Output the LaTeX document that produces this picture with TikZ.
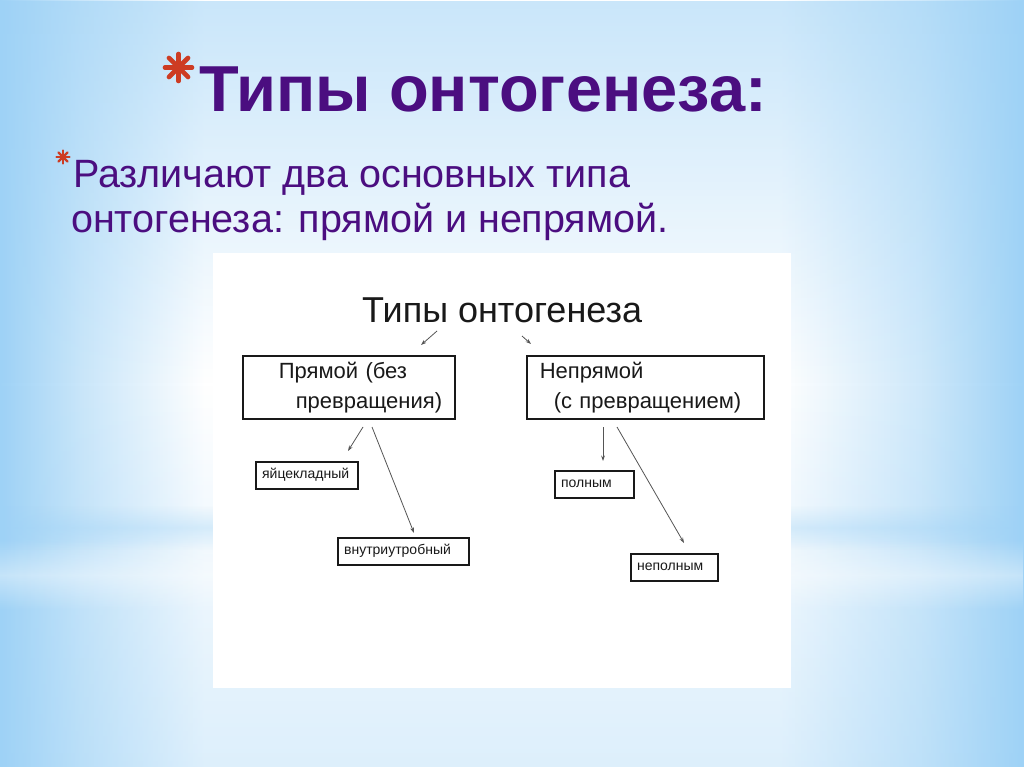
\documentclass[tikz,border=0pt]{standalone}
\usepackage{fontspec}
\setmainfont{Liberation Sans}
\usetikzlibrary{arrows.meta,fadings}
\definecolor{bgblue}{RGB}{158,210,246}
\definecolor{ttl}{RGB}{75,14,128}
\definecolor{starred}{RGB}{205,60,35}
\definecolor{ink}{RGB}{25,25,25}
\definecolor{arrgray}{RGB}{85,85,85}
\pgfdeclarehorizontalshading{bgshade}{100bp}{color(0bp)=(bgblue); color(25bp)=(bgblue); color(29bp)=(bgblue!55!white); color(35bp)=(white); color(63bp)=(white); color(70bp)=(bgblue!50!white); color(75bp)=(bgblue); color(100bp)=(bgblue)}
\tikzfading[name=vfade, top color=transparent!45, bottom color=transparent!65, middle color=transparent!100]
\tikzfading[name=vsoft, top color=transparent!100, bottom color=transparent!100, middle color=transparent!0]
\begin{document}
\begin{tikzpicture}[x=1pt,y=-1pt,
  bigbox/.style={draw=ink, line width=1.6pt, minimum height=63pt, inner ysep=0pt, align=left, anchor=north west, text=ink, font=\fontsize{22}{30}\selectfont},
  smallbox/.style={draw=ink, line width=2.2pt, minimum height=26.5pt, inner xsep=6pt, inner ysep=0pt, align=left, anchor=north west, text=ink, font=\fontsize{14}{16}\selectfont, text height=10pt, text depth=4.5pt},
  arr/.style={draw=arrgray, line width=0.8pt, -{Stealth[length=5.5pt,width=3.8pt]}},
  slidetext/.style={anchor=base west, inner sep=0pt, text=ttl},
  starline/.style={draw=starred, line cap=round}
]
\useasboundingbox (0,0) rectangle (1024,767);
% background
\shade[shading=bgshade] (0,0) rectangle (1024,767);
\fill[bgblue, path fading=vfade] (0,0) rectangle (1024,767);
\fill[bgblue, opacity=0.35, path fading=vsoft] (0,505) rectangle (1024,550);
\fill[white, opacity=0.4, path fading=vsoft] (0,540) rectangle (1024,610);
% bullet asterisks
\foreach \a in {0,45,90,135} {
  \draw[starline, line width=4.6pt] (178.5,67.5) ++(\a:13.5) -- ++(\a+180:27);
  \draw[starline, line width=2.2pt] (63,157) ++(\a:6.5) -- ++(\a+180:13);
}
% slide texts
\node[slidetext, font=\bfseries\fontsize{65}{65}\selectfont] (title) at (199,112) {Типы онтогенеза:};
\node[slidetext, font=\fontsize{39.5}{46}\selectfont] (sub1) at (73,188) {Различают два основных типа};
\node[slidetext, font=\fontsize{39.5}{46}\selectfont] (sub2) at (71,233) {онтогенеза: прямой и непрямой.};
% picture panel
\fill[white] (213,253) rectangle (791,688);
\node[anchor=base west, inner sep=0pt, text=ink, font=\fontsize{36}{40}\selectfont] (dtitle) at (362,322) {Типы онтогенеза};
\node[bigbox, text width=212pt, inner xsep=0pt] (direct) at (242,355) {\hspace*{36pt}Прямой (без\\\hspace*{53pt}превращения)};
\node[bigbox, text width=237pt, inner xsep=0pt] (indirect) at (526,355) {\hspace*{13pt}Непрямой\\\hspace*{27pt}(с превращением)};
\node[smallbox, text width=90pt] (egg) at (255,461) {яйцекладный};
\node[smallbox, text width=119pt] (womb) at (337,537) {внутриутробный};
\node[smallbox, text width=67pt] (full) at (554,470) {полным};
\node[smallbox, text width=75pt] (part) at (630,553) {неполным};
% arrow end points
\coordinate (t1s) at (437,331); \coordinate (t1e) at (421,345);
\coordinate (t2s) at (522,336); \coordinate (t2e) at (531,344);
\coordinate (d1s) at (363,427); \coordinate (d1e) at (348,451);
\coordinate (d2s) at (372,427); \coordinate (d2e) at (414,533);
\coordinate (i1s) at (603,427); \coordinate (i1e) at (603,461);
\coordinate (i2s) at (617,427); \coordinate (i2e) at (684,543);
\draw[arr] (t1s) -- (t1e);
\draw[arr] (t2s) -- (t2e);
\draw[arr] (d1s) -- (d1e);
\draw[arr] (d2s) -- (d2e);
\draw[arr] (i1s) -- (i1e);
\draw[arr] (i2s) -- (i2e);
\end{tikzpicture}
\end{document}
